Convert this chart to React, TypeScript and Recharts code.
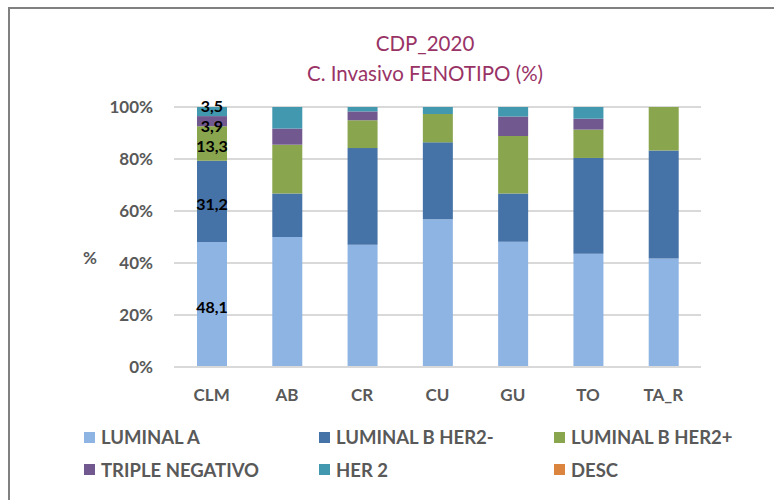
import React from 'react';
import { BarChart, Bar, XAxis, YAxis, CartesianGrid, LabelList } from 'recharts';

const provincias = ['CLM', 'AB', 'CR', 'CU', 'GU', 'TO', 'TA_R'];
const luminalA = [48.1, 50.0, 47.0, 56.8, 48.2, 43.6, 41.7];
const luminalBNeg = [31.2, 16.7, 37.2, 29.6, 18.5, 36.8, 41.6];
const luminalBPos = [13.3, 18.8, 10.7, 10.9, 22.1, 10.9, 16.7];
const tripleNeg = [3.9, 6.2, 3.4, 0, 7.5, 4.2, 0];
const her2 = [3.5, 8.3, 1.7, 2.7, 3.7, 4.5, 0];
const desc = [0, 0, 0, 0, 0, 0, 0];
const yTicks = [0, 20, 40, 60, 80, 100];

const series = [
  { key: 'lumA', name: 'LUMINAL A', color: '#8EB4E3', values: luminalA },
  { key: 'lumBNeg', name: 'LUMINAL B HER2-', color: '#4572A7', values: luminalBNeg },
  { key: 'lumBPos', name: 'LUMINAL B HER2+', color: '#89A54E', values: luminalBPos },
  { key: 'tn', name: 'TRIPLE NEGATIVO', color: '#71588F', values: tripleNeg },
  { key: 'her2', name: 'HER 2', color: '#4198AF', values: her2 },
  { key: 'desc', name: 'DESC', color: '#DB843D', values: desc },
];

const data = provincias.map((p, i) => {
  const row: Record<string, string | number> = { name: p };
  series.forEach((s) => { row[s.key] = s.values[i]; });
  return row;
});

const font = 'Lato, "Open Sans", sans-serif';
const gray = '#595959';

// etiquetas solo en la primera barra (CLM)
const makeLabel = (shift: number) => (props: any) => {
  const { x, y, width, height, value, index } = props;
  if (index !== 0 || !value) return null;
  return (
    <text
      x={x + width / 2}
      y={y + height / 2 + shift}
      textAnchor="middle"
      dominantBaseline="central"
      fontFamily={font}
      fontWeight={700}
      fontSize={16}
      fill="#000"
    >
      {String(value).replace('.', ',')}
    </text>
  );
};

const shifts: Record<string, number> = { lumA: 2, lumBNeg: 2, lumBPos: 2, tn: 4, her2: -6, desc: 0 };

export default function App() {
  return (
    <div style={{ position: 'absolute', left: 0, top: 0, width: 774, height: 500, background: '#fff', overflow: 'hidden', fontFamily: font }}>
      <div style={{ position: 'absolute', left: 8, top: 7, width: 800, height: 2, background: '#808080' }} />
      <div style={{ position: 'absolute', left: 8, top: 7, width: 2, height: 500, background: '#808080' }} />
      <div style={{ position: 'absolute', left: 0, width: 850, top: 28, textAlign: 'center', color: '#993366', fontSize: 20.5, lineHeight: '30px' }}>
        <div>CDP_2020</div>
        <div>C. Invasivo FENOTIPO (%)</div>
      </div>
      <BarChart
        width={774}
        height={500}
        data={data}
        margin={{ top: 107, right: 73, left: 74, bottom: 103 }}
        barSize={30}
      >
        <CartesianGrid vertical={false} stroke="#D9D9D9" strokeWidth={2} />
        <XAxis
          dataKey="name"
          axisLine={{ stroke: '#D9D9D9', strokeWidth: 2 }}
          tickLine={false}
          tickSize={0}
          tickMargin={22}
          height={30}
          tick={{ fill: gray, fontSize: 17, fontWeight: 700, fontFamily: font }}
        />
        <YAxis
          width={100}
          domain={[0, 100]}
          ticks={yTicks}
          axisLine={false}
          tickLine={false}
          tickSize={0}
          tickMargin={21}
          tickFormatter={(v) => `${v}%`}
          tick={{ fill: gray, fontSize: 17, fontWeight: 700, fontFamily: font }}
          label={{ value: '%', position: 'insideLeft', offset: 9, dy: 21, fill: gray, fontSize: 17, fontWeight: 700, fontFamily: font }}
        />
        {series.map((s) => (
          <Bar key={s.key} dataKey={s.key} name={s.name} stackId="a" fill={s.color} isAnimationActive={false}>
            <LabelList dataKey={s.key} content={makeLabel(shifts[s.key])} />
          </Bar>
        ))}
      </BarChart>
      <div style={{ position: 'absolute', left: 84, top: 421, width: 705, display: 'flex', flexWrap: 'wrap' }}>
        {series.map((s) => (
          <div key={s.key} style={{ width: 235, height: 32.5, display: 'flex', alignItems: 'center', color: gray, fontWeight: 700, fontSize: 18.5 }}>
            <span style={{ width: 11, height: 11, background: s.color, marginRight: 6, display: 'inline-block', flexShrink: 0 }} />
            {s.name}
          </div>
        ))}
      </div>
    </div>
  );
}
